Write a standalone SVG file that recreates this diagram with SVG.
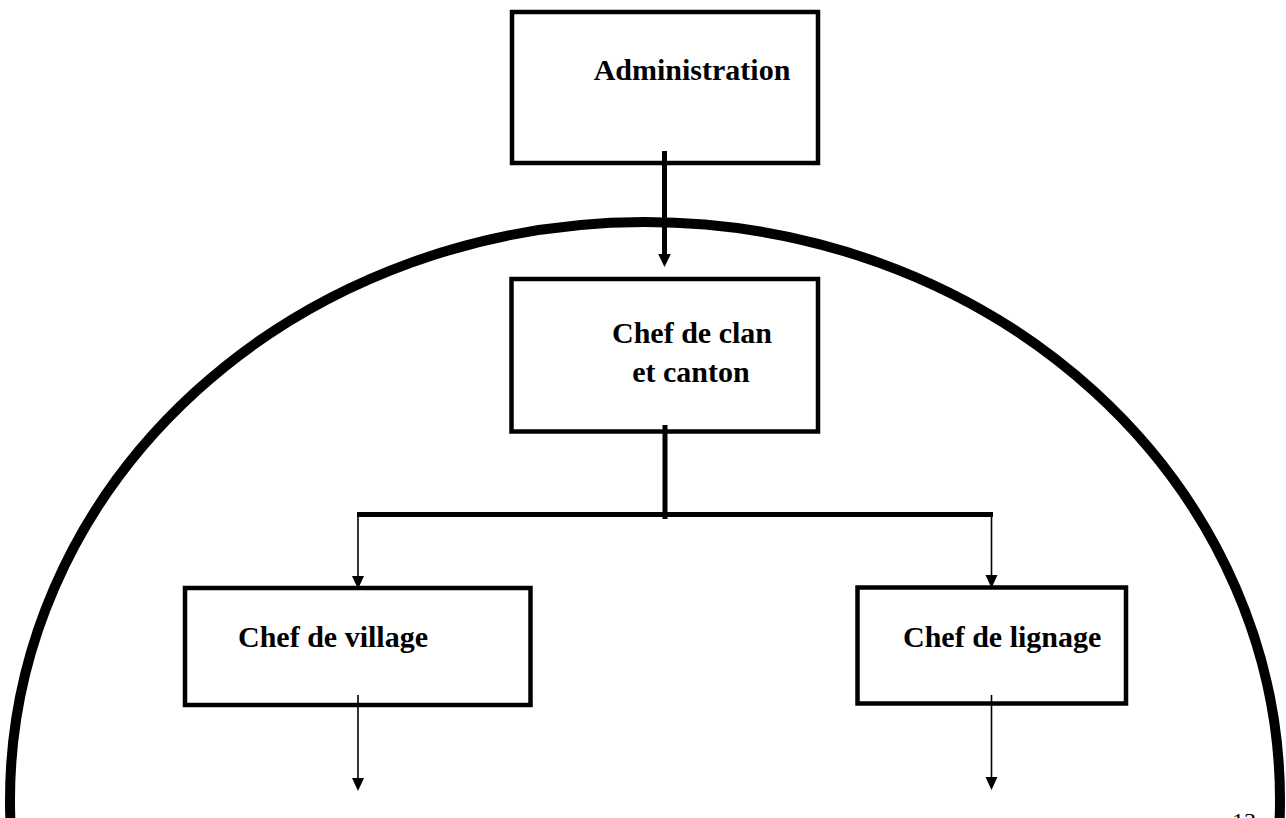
<svg xmlns="http://www.w3.org/2000/svg" width="1286" height="818" viewBox="0 0 1286 818">
  <style>
    .box { fill: #ffffff; stroke: #000000; stroke-width: 4.5; stroke-linejoin: miter; }
    .label { font-family: "Liberation Serif", "Times New Roman", serif; font-weight: bold; font-size: 30px; fill: #000000; }
    .thick { stroke: #000000; stroke-width: 5; fill: none; }
    .thin { stroke: #000000; stroke-width: 1.6; fill: none; }
    .page { font-family: "Liberation Serif", "Times New Roman", serif; font-size: 24px; fill: #000000; }
  </style>
  <defs>
    <marker id="tri" markerUnits="userSpaceOnUse" markerWidth="13" markerHeight="13" viewBox="0 0 13 13" refX="6.5" refY="13" orient="auto-start-reverse">
      <path d="M0,0 L13,0 L6.5,13 Z" fill="#000000"/>
    </marker>
  </defs>

  <!-- Administration -->
  <g id="node-administration">
    <rect class="box" x="512" y="12" width="306" height="151"/>
    <text class="label" x="692" y="80" text-anchor="middle">Administration</text>
  </g>

  <!-- Chef de clan et canton -->
  <g id="node-chef-clan">
    <rect class="box" x="511.5" y="279" width="306.5" height="152.5"/>
    <text class="label" x="692" y="343" text-anchor="middle">Chef de clan</text>
    <text class="label" x="691" y="381.5" text-anchor="middle">et canton</text>
  </g>

  <!-- Chef de village -->
  <g id="node-chef-village">
    <rect class="box" x="185" y="588" width="345.5" height="117"/>
    <text class="label" x="238" y="646.5">Chef de village</text>
  </g>

  <!-- Chef de lignage -->
  <g id="node-chef-lignage">
    <rect class="box" x="857.5" y="587.5" width="268.5" height="116"/>
    <text class="label" x="903" y="646.5">Chef de lignage</text>
  </g>

  <!-- Connectors -->
  <g id="connectors">
    <!-- Administration to chef de clan -->
    <line class="thick" x1="664.5" y1="151" x2="664.5" y2="256"/>
    <path d="M658.2,254 L670.8,254 L664.5,267 Z" fill="#000000"/>
    <!-- trunk and branch bar -->
    <line class="thick" x1="665" y1="425" x2="665" y2="519"/>
    <line class="thick" x1="357" y1="514.5" x2="993" y2="514.5"/>
    <!-- branches down to the chiefs -->
    <line class="thin" x1="358" y1="514.5" x2="358" y2="577"/>
    <path d="M352,576 L364,576 L358,589 Z" fill="#000000"/>
    <line class="thin" x1="991.5" y1="514.5" x2="991.5" y2="576"/>
    <path d="M985.5,575 L997.5,575 L991.5,588 Z" fill="#000000"/>
    <!-- outgoing arrows below the chiefs -->
    <line class="thin" x1="358" y1="695" x2="358" y2="780"/>
    <path d="M352,778 L364,778 L358,791 Z" fill="#000000"/>
    <line class="thin" x1="991.5" y1="695" x2="991.5" y2="779"/>
    <path d="M985.5,777 L997.5,777 L991.5,790 Z" fill="#000000"/>
  </g>

  <!-- Enclosing boundary -->
  <g id="boundary">
    <ellipse cx="645" cy="800" rx="635" ry="578" fill="none" stroke="#000000" stroke-width="10"/>
  </g>

  <!-- page number -->
  <text class="page" x="1232" y="829">13</text>
</svg>
